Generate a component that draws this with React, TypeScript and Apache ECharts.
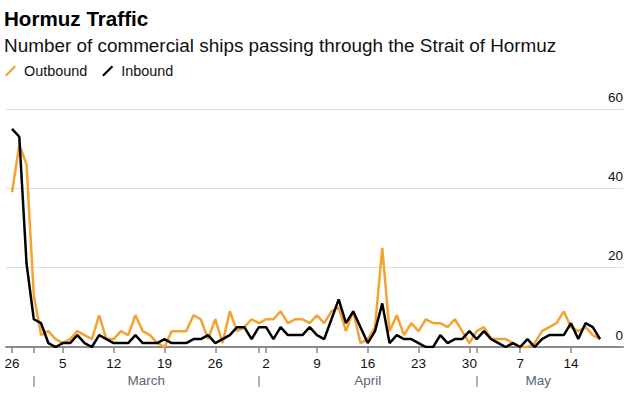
import React, { useEffect, useRef } from "react";
import * as echarts from "echarts";

// Day index 0 = Feb 26, last = May 18
const outbound = [
  39, 51, 46, 13, 3, 4, 2, 1, 2, 4, 3, 2, 8, 2, 2, 4, 3, 8, 4, 3, 1, 0, 4, 4, 4, 8, 7, 2, 7,
  1, 9, 4, 5, 7, 6, 7, 7, 9, 6, 7, 7, 6, 8, 6, 9, 10, 4, 9, 1, 2, 5, 25, 4, 8, 3, 6, 4, 7,
  6, 6, 5, 7, 4, 1, 4, 5, 2, 2, 2, 1, 0, 0, 1, 4, 5, 6, 9, 5, 4, 5, 3, 2,
];
const inbound = [
  55, 53, 21, 7, 6, 1, 0, 1, 1, 3, 1, 0, 3, 2, 1, 1, 1, 3, 1, 1, 1, 2, 1, 1, 1, 2, 2, 3, 1,
  2, 3, 5, 5, 2, 5, 5, 2, 5, 3, 3, 3, 5, 3, 2, 7, 12, 6, 9, 5, 1, 4, 11, 1, 3, 2, 2, 1, 0,
  0, 3, 1, 2, 2, 4, 2, 4, 2, 1, 0, 1, 0, 2, 0, 2, 3, 3, 3, 6, 2, 6, 5, 2,
];

const dayTicks = [0, 7, 14, 21, 28, 35, 42, 49, 56, 63, 70, 77];
const dayTickLabels = ["26", "5", "12", "19", "26", "2", "9", "16", "23", "30", "7", "14"];
const monthStarts = [3, 34, 64];
const monthLabelPos = [18.5, 49, 72.5];
const monthNames = ["March", "April", "May"];
const yTicks = [0, 20, 40, 60];

const FONT = "'Liberation Sans', Arial, Helvetica, sans-serif";
const ORANGE = "#f6a230";
const X_MIN = -0.83;
const X_MAX = 84.16;

export default function App() {
  const ref = useRef<HTMLDivElement>(null);
  useEffect(() => {
    if (!ref.current) return;
    const chart = echarts.init(ref.current, null, { renderer: "svg" });
    const findLabel = (vals: number[], labels: string[], v: number) => {
      const i = vals.findIndex((t) => Math.abs(t - v) < 1e-6);
      return i >= 0 ? labels[i] : "";
    };
    const legendIcon = "path://M0,8.6 L8.6,0 L10,1.4 L1.4,10 Z";
    chart.setOption({
      animation: false,
      backgroundColor: "#ffffff",
      textStyle: { fontFamily: FONT },
      title: [
        {
          text: "Hormuz Traffic",
          left: 4,
          top: 6,
          padding: 0,
          textStyle: { fontFamily: FONT, fontSize: 20.6, fontWeight: "bold", color: "#000", lineHeight: 24 },
        },
        {
          text: "Number of commercial ships passing through the Strait of Hormuz",
          left: 4,
          top: 34,
          padding: 0,
          textStyle: { fontFamily: FONT, fontSize: 18.9, fontWeight: "normal", color: "#111", lineHeight: 22 },
        },
      ],
      legend: {
        left: 5,
        top: 64,
        padding: 0,
        itemWidth: 11,
        itemHeight: 11,
        itemGap: 15,
        textStyle: { fontFamily: FONT, fontSize: 14.4, color: "#111", padding: [0, 0, 0, 3] },
        data: [
          { name: "Outbound", icon: legendIcon, itemStyle: { color: ORANGE } },
          { name: "Inbound", icon: legendIcon, itemStyle: { color: "#000" } },
        ],
      },
      grid: { left: 6, right: 21, top: 109, bottom: 53, containLabel: false },
      xAxis: [
        {
          type: "value",
          min: X_MIN,
          max: X_MAX,
          position: "bottom",
          splitLine: { show: false },
          axisLine: { show: true, lineStyle: { color: "#8a8a8a", width: 2 } },
          axisTick: {
            show: true,
            length: 6,
            customValues: [...dayTicks, ...monthStarts].sort((a, b) => a - b),
            lineStyle: { color: "#8a8a8a", width: 1.5 },
          },
          axisLabel: {
            show: true,
            customValues: dayTicks,
            margin: 9,
            fontSize: 13.5,
            fontFamily: FONT,
            color: "#111",
            formatter: (v: number) => findLabel(dayTicks, dayTickLabels, v),
          },
        },
        {
          type: "value",
          min: X_MIN,
          max: X_MAX,
          position: "bottom",
          offset: 29,
          splitLine: { show: false },
          axisLine: { show: false },
          axisTick: {
            show: true,
            length: 11,
            customValues: monthStarts,
            lineStyle: { color: "#999", width: 1.5 },
          },
          axisLabel: {
            show: true,
            customValues: monthLabelPos,
            margin: 4,
            verticalAlign: "middle",
            fontSize: 13.5,
            fontFamily: FONT,
            color: "#5a6674",
            formatter: (v: number) => findLabel(monthLabelPos, monthNames, v),
          },
        },
      ],
      yAxis: {
        type: "value",
        position: "right",
        min: yTicks[0],
        max: yTicks[yTicks.length - 1],
        interval: 20,
        axisLine: { show: false },
        axisTick: { show: false },
        splitLine: { show: true, lineStyle: { color: "#dcdcdc", width: 1.2 } },
        axisLabel: {
          inside: true,
          margin: 0,
          verticalAlign: "bottom",
          padding: [0, 0, 5, 0],
          fontSize: 13.5,
          fontFamily: FONT,
          color: "#111",
        },
      },
      series: [
        {
          name: "Outbound",
          type: "line",
          xAxisIndex: 0,
          showSymbol: false,
          symbol: "none",
          lineStyle: { color: ORANGE, width: 2.5 },
          itemStyle: { color: ORANGE },
          data: outbound.map((v, i) => [i, v]),
        },
        {
          name: "Inbound",
          type: "line",
          xAxisIndex: 0,
          showSymbol: false,
          symbol: "none",
          lineStyle: { color: "#000", width: 2.5 },
          itemStyle: { color: "#000" },
          data: inbound.map((v, i) => [i, v]),
        },
      ],
    });
    return () => chart.dispose();
  }, []);
  return (
    <div
      ref={ref}
      style={{ position: "fixed", left: 0, top: 0, width: 644, height: 400, background: "#fff" }}
    />
  );
}
